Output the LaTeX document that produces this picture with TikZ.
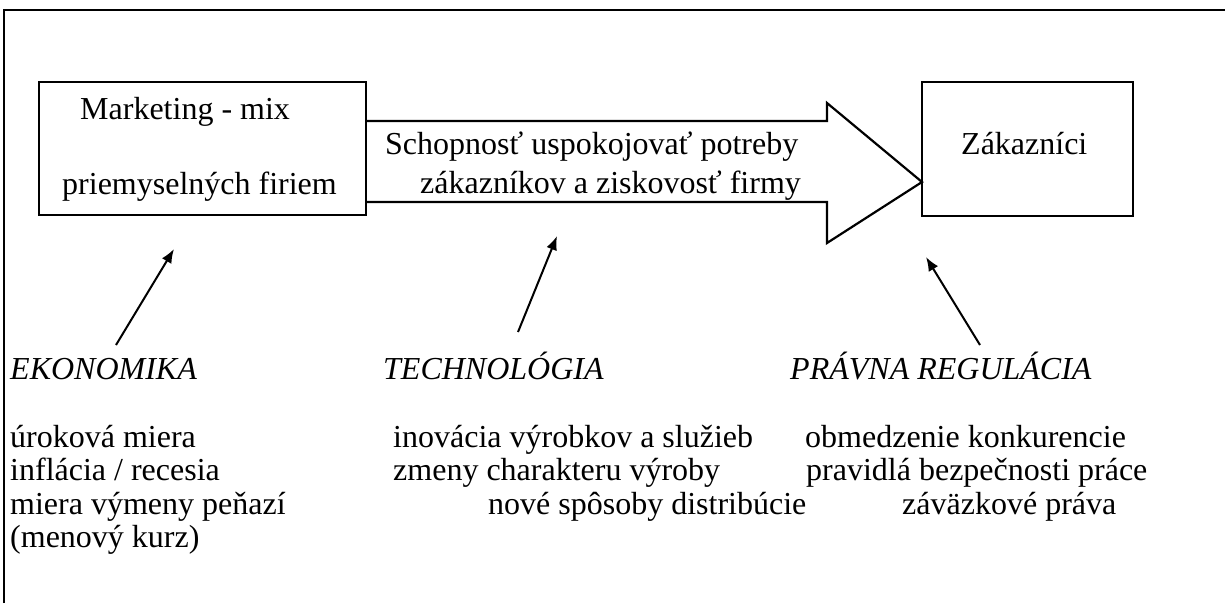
\documentclass[tikz,border=0pt]{standalone}
\usepackage{fontspec}
\setmainfont{Liberation Serif}
\usetikzlibrary{arrows.meta}
\begin{document}
\begin{tikzpicture}[x=1pt,y=-1pt,
  txt/.style={anchor=base west,inner sep=0pt,font=\fontsize{32}{34}\selectfont},
  itxt/.style={txt,font=\fontsize{32}{34}\selectfont\itshape},
  boxline/.style={line width=2.2pt},
  pointer/.style={line width=2pt,-{Latex[length=14pt,width=11pt]}}]
\useasboundingbox (0,0) rectangle (1225,603);
% frame
\draw[line width=2.2pt] (4,603) -- (4,10) -- (1225,10);
% boxes
\draw[boxline] (39,82) rectangle (366,215);
\draw[boxline] (922,82) rectangle (1133,216);
\node[txt] (mm1) at (80,119) {Marketing - mix};
\node[txt] (mm2) at (62,194) {priemyselných firiem};
\node[txt] (zak) at (961,154) {Zákazníci};
% big arrow
\draw[boxline,line join=miter] (366,121) -- (827,121) -- (827,103) -- (922,182) -- (827,243) -- (827,202) -- (366,202);
\node[txt] (ar1) at (385,154) {Schopnosť uspokojovať potreby};
\node[txt] (ar2) at (420,193) {zákazníkov a ziskovosť firmy};
% headings
\node[itxt] (h1) at (10,379) {EKONOMIKA};
\node[itxt] (h2) at (383,379) {TECHNOLÓGIA};
\node[itxt] (h3) at (790,379) {PRÁVNA REGULÁCIA};
% lists
\node[txt] (e1) at (10,447) {úroková miera};
\node[txt] (e2) at (10,480) {inflácia / recesia};
\node[txt] (e3) at (10,514) {miera výmeny peňazí};
\node[txt] (e4) at (10,547) {(menový kurz)};
\node[txt] (t1) at (393,447) {inovácia výrobkov a služieb};
\node[txt] (t2) at (393,480) {zmeny charakteru výroby};
\node[txt] (t3) at (488,514) {nové spôsoby distribúcie};
\node[txt] (p1) at (805,447) {obmedzenie konkurencie};
\node[txt] (p2) at (806,480) {pravidlá bezpečnosti práce};
\node[txt] (p3) at (902,514) {záväzkové práva};
% pointer arrows
\coordinate (a1s) at (116,345); \coordinate (a1e) at (174,249);
\coordinate (a2s) at (518,332); \coordinate (a2e) at (557,236);
\coordinate (a3s) at (980,345); \coordinate (a3e) at (926,257);
\draw[pointer] (a1s) -- (a1e);
\draw[pointer] (a2s) -- (a2e);
\draw[pointer] (a3s) -- (a3e);
\end{tikzpicture}
\end{document}
